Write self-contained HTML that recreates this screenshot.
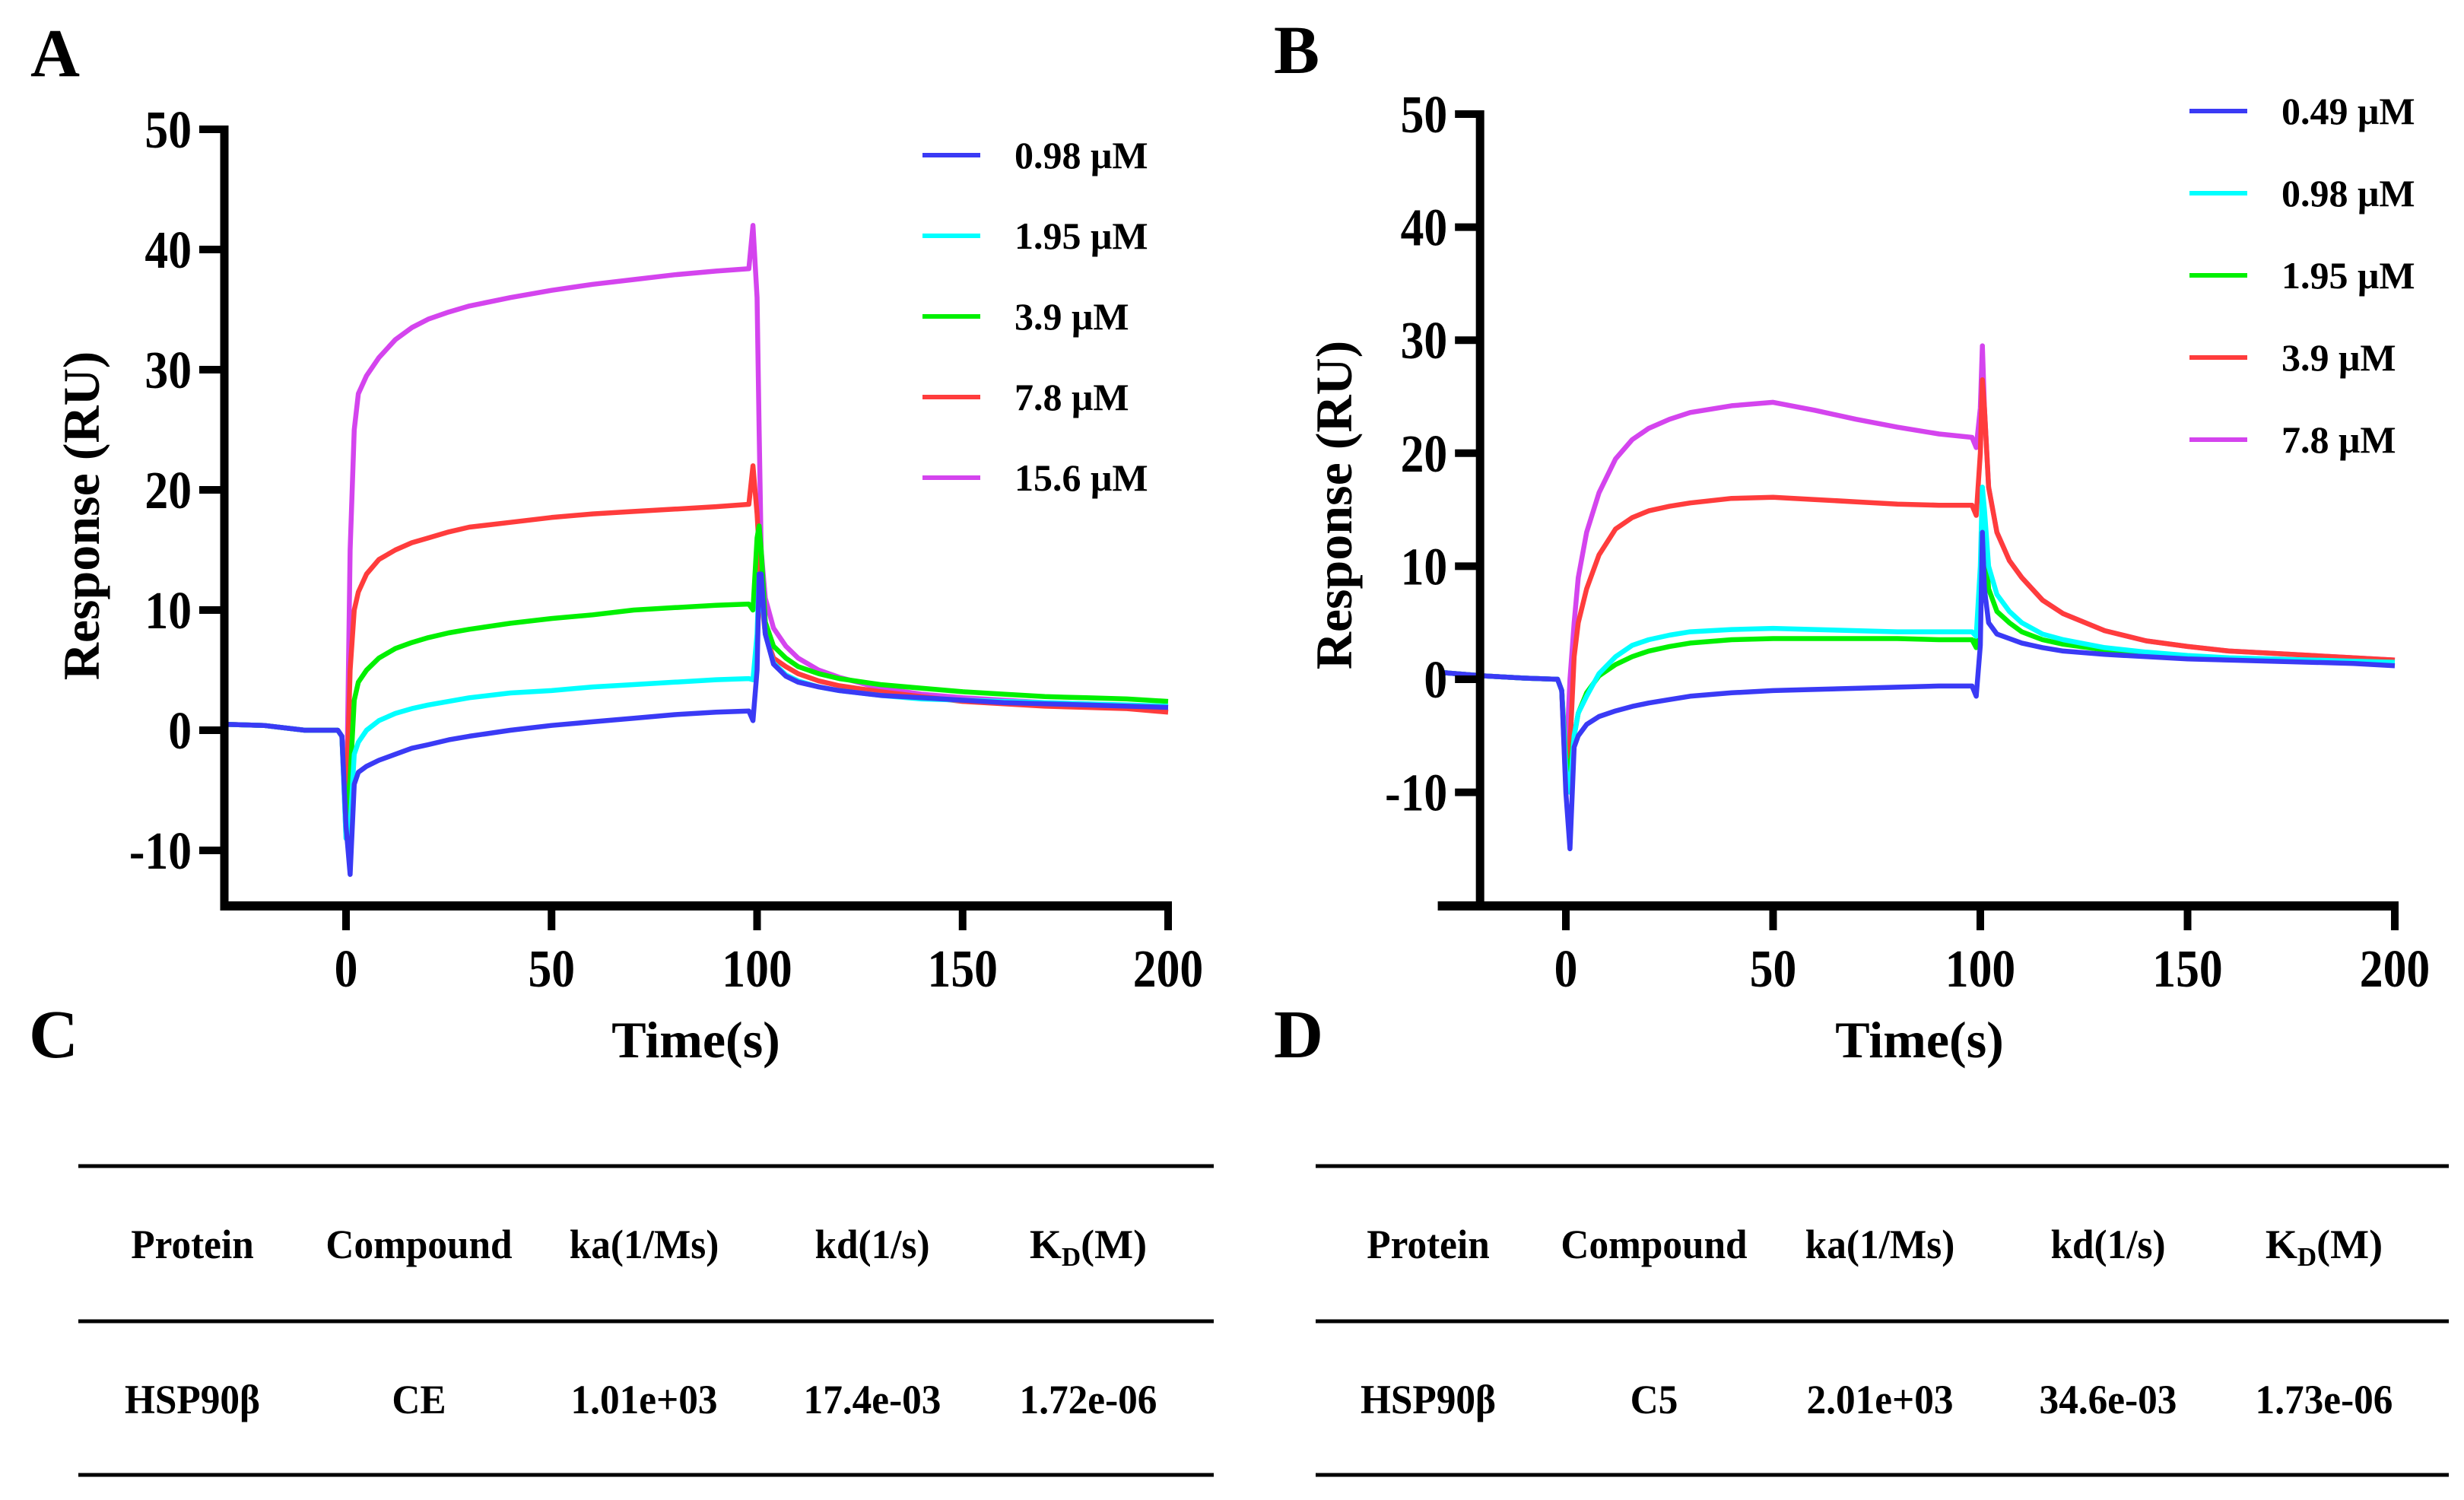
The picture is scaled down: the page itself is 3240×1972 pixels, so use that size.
<!DOCTYPE html>
<html><head><meta charset="utf-8">
<style>
html,body{margin:0;padding:0;background:#fff;}
svg{display:block;}
text{font-family:"Liberation Serif",serif;}
</style></head>
<body>
<svg id="fig" width="3240" height="1972" viewBox="0 0 3240 1972" xmlns="http://www.w3.org/2000/svg"></svg>
<script>
// ---- shared time grid (s) ----
const times = [-30,-20,-10,-2,-1,0,1,2,3,5,8,12,16,20,25,30,40,50,60,70,80,90,98,99,100,100.5,101,102,104,107,110,115,120,130,140,150,160,170,180,190,200];
const yTicks = [-10,0,10,20,30,40,50];
const xTicks = [0,50,100,150,200];
// ---- Panel A ----
const labelsA = ["0.98 μM","1.95 μM","3.9 μM","7.8 μM","15.6 μM"];
const a098 = [0.5,0.4,0,0,-0.5, -8,-12,-4.5,-3.5,-3,-2.5,-2,-1.5,-1.2,-0.8,-0.5,0,0.4,0.7,1.0,1.3,1.5,1.6,0.8,5,13,13,8,5.5,4.5,4,3.6,3.3,2.9,2.7,2.5,2.3,2.2,2.1,2.0,1.9];
const a195 = [0.5,0.4,0,0,-0.5, -9,-8,-2,-1,0,0.8,1.4,1.8,2.1,2.4,2.7,3.1,3.3,3.6,3.8,4.0,4.2,4.3,4.2,8,13,12,8,5.6,4.6,4.1,3.6,3.3,2.9,2.6,2.5,2.4,2.3,2.2,2.1,2.0];
const a39 = [0.5,0.4,0,0,-0.5, -8,-4,2.5,4,5,6,6.8,7.3,7.7,8.1,8.4,8.9,9.3,9.6,10,10.2,10.4,10.5,10,16,17,15,9,7,6,5.3,4.7,4.3,3.8,3.5,3.2,3.0,2.8,2.7,2.6,2.4];
const a78 = [0.5,0.4,0,0,-0.5, -7,5,10,11.5,13,14.2,15,15.6,16,16.5,16.9,17.3,17.7,18,18.2,18.4,18.6,18.8,22,18,15,11,8,6,5.3,4.7,4.1,3.7,3.2,2.8,2.4,2.2,2.0,1.9,1.8,1.5];
const a156 = [0.5,0.4,0,0,-0.5, -9,15,25,28,29.5,31,32.5,33.5,34.2,34.8,35.3,36,36.6,37.1,37.5,37.9,38.2,38.4,42,36,25,15,11,8.5,7,6,5,4.4,3.5,3,2.7,2.5,2.3,2.2,2.0,1.9];
// ---- Panel B ----
const labelsB = ["0.49 μM","0.98 μM","1.95 μM","3.9 μM","7.8 μM"];
const b049 = [0.6,0.3,0.1,0,-1, -10,-15,-6,-5,-4,-3.3,-2.8,-2.4,-2.1,-1.8,-1.5,-1.2,-1.0,-0.9,-0.8,-0.7,-0.6,-0.6,-1.5,3,13,8,5,4,3.6,3.2,2.8,2.5,2.2,2.0,1.8,1.7,1.6,1.5,1.4,1.2];
const b098 = [0.6,0.3,0.1,0,-1, -8,-10,-5,-3,-1.5,0.5,2,3,3.5,3.9,4.2,4.4,4.5,4.4,4.3,4.2,4.2,4.2,3.8,10,17,15,10,7.5,6,5,4,3.5,2.8,2.4,2.1,1.9,1.8,1.7,1.6,1.5];
const b195 = [0.6,0.3,0.1,0,-1, -7,-8,-5,-3,-1.2,0.3,1.3,2,2.5,2.9,3.2,3.5,3.6,3.6,3.6,3.6,3.5,3.5,2.8,9,16,13,8,6,5,4.2,3.5,3.1,2.6,2.2,2.0,1.8,1.7,1.6,1.6,1.5];
const b39 = [0.6,0.3,0.1,0,-1, -9.5,-6,2,5,8,11,13.3,14.3,14.9,15.3,15.6,16.0,16.1,15.9,15.7,15.5,15.4,15.4,14.5,20,26.5,24,17,13,10.5,9,7,5.8,4.3,3.4,2.9,2.5,2.3,2.1,1.9,1.7];
const b78 = [0.6,0.3,0.1,0,-1, -8,0,5,9,13,16.5,19.5,21.2,22.2,23,23.6,24.2,24.5,23.8,23,22.3,21.7,21.4,20.5,24,29.5,24,17,13,10.5,9,7,5.8,4.3,3.4,2.9,2.5,2.3,2.1,1.9,1.7];
// ---- Tables ----
const tableHeaders = ["Protein","Compound","ka(1/Ms)","kd(1/s)","K_D(M)"];
const rowC = ["HSP90β","CE","1.01e+03","17.4e-03","1.72e-06"];
const rowD = ["HSP90β","C5","2.01e+03","34.6e-03","1.73e-06"];

const colors = ["#3a3af5","#00ffff","#00f000","#ff3c3c","#d444ee"];
const NS = "http://www.w3.org/2000/svg";
const svg = document.getElementById("fig");

function mk(tag, attrs, parent, txt){
  const e = document.createElementNS(NS, tag);
  for (const k in attrs) e.setAttribute(k, attrs[k]);
  if (txt !== undefined) e.textContent = txt;
  (parent || svg).appendChild(e);
  return e;
}
function txt(x,y,s,size,anchor,sx,weight,parent,name){
  const t = mk("text",{transform:`translate(${x},${y}) scale(${sx},1)`,"font-size":size,"text-anchor":anchor,"font-weight":weight,fill:"#000"},parent,s);
  
  
  return t;
}

function panel(cfg){
  const g = mk("g",{});
  
  
  const X = v => cfg.x0 + (v - 0) * cfg.pxPer50 / 50;
  const Y = v => cfg.y0 - v * cfg.pxPer10 / 10;
  const axisX = X(cfg.yAxisAt);
  const axisY = cfg.xAxisY;
  for (let s = cfg.series.length - 1; s >= 0; s--) {
    const vals = cfg.series[s];
    let d = "";
    for (let i = 0; i < times.length; i++) {
      d += (i ? "L" : "M") + X(times[i]).toFixed(1) + "," + Y(vals[i]).toFixed(1);
    }
    const p = mk("path",{d:d,fill:"none",stroke:colors[s],"stroke-width":6.5,"stroke-linejoin":"round"},g);
    
    
  }
  const ya = mk("line",{x1:axisX,y1:Y(50)-5,x2:axisX,y2:axisY+6,stroke:"#000","stroke-width":11},g);
  
  
  yTicks.forEach(v=>{
    const l = mk("line",{x1:axisX-33,y1:Y(v),x2:axisX,y2:Y(v),stroke:"#000","stroke-width":10},g);
    
    
    txt(axisX-43, Y(v)+24, String(v), 70, "end", 0.88, "bold", g, "y-tick-label");
  });
  const xa = mk("line",{x1:X(cfg.xStart),y1:axisY,x2:X(200)+5,y2:axisY,stroke:"#000","stroke-width":12},g);
  
  
  xTicks.forEach(v=>{
    const l = mk("line",{x1:X(v),y1:axisY,x2:X(v),y2:axisY+32,stroke:"#000","stroke-width":10},g);
    
    
    txt(X(v), 1297, String(v), 70, "middle", 0.88, "bold", g, "x-tick-label");
  });
  const yt = mk("text",{transform:`translate(${cfg.yTitleX},${cfg.yTitleY}) rotate(-90)`,"font-size":68,"font-weight":"bold","text-anchor":"middle"},g,"Response (RU)");
  
  
  txt(cfg.xTitleX, 1390, "Time(s)", 68, "middle", 1, "bold", g, "x-axis-title");
  cfg.labels.forEach((lab,i)=>{
    const ly = cfg.legY + i*cfg.legStep;
    const l = mk("line",{x1:cfg.legX,y1:ly,x2:cfg.legX+76,y2:ly,stroke:colors[i],"stroke-width":6},g);
    
    
    txt(cfg.legX+121, ly+17, lab, 50, "start", 1, "bold", g, "legend-entry");
  });
  txt(cfg.letterX, cfg.letterY, cfg.letter, 90, "start", 1, "bold", g, "panel-label-" + cfg.letter.toLowerCase());
}

panel({name:"panel-a-chart",letter:"A",letterX:40,letterY:100,
  x0:455,pxPer50:270.25,y0:960,pxPer10:158,yAxisAt:-29.6,xStart:-29.6,xAxisY:1191,
  series:[a098,a195,a39,a78,a156],labels:labelsA,
  legX:1213,legY:204,legStep:106,yTitleX:130,yTitleY:678,xTitleX:915});
panel({name:"panel-b-chart",letter:"B",letterX:1675,letterY:96,
  x0:2059,pxPer50:272.5,y0:893,pxPer10:148.6,yAxisAt:-20.7,xStart:-30.9,xAxisY:1191,
  series:[b049,b098,b195,b39,b78],labels:labelsB,
  legX:2879,legY:146,legStep:108,yTitleX:1777,yTitleY:664,xTitleX:2524});

function table(cfg, row){
  const g = mk("g",{});
  
  
  [1533,1737,1939].forEach(y=>{
    const l = mk("line",{x1:cfg.x1,y1:y,x2:cfg.x2,y2:y,stroke:"#000","stroke-width":5},g);
    
    
  });
  tableHeaders.forEach((h,i)=>{
    if (h === "K_D(M)") {
      const t = mk("text",{x:cfg.cols[i],y:1654,"font-size":54,"font-weight":"bold","text-anchor":"middle"},g);
      
      
      mk("tspan",{},t,"K");
      mk("tspan",{"font-size":35,dy:10},t,"D");
      mk("tspan",{dy:-10},t,"(M)");
    } else {
      txt(cfg.cols[i], 1654, h, 54, "middle", 0.95, "bold", g, "table-header");
    }
  });
  row.forEach((v,i)=>{
    txt(cfg.cols[i], 1858, v, 54, "middle", 0.95, "bold", g, "table-cell");
  });
  txt(cfg.letterX, 1390, cfg.letter, 90, "start", 1, "bold", g, "panel-label-" + cfg.letter.toLowerCase());
}
table({name:"table-c",letter:"C",letterX:38,x1:103,x2:1596,cols:[253,551,847,1147,1431]}, rowC);
table({name:"table-d",letter:"D",letterX:1675,x1:1730,x2:3220,cols:[1878,2175,2472,2772,3056]}, rowD);
</script>
</body></html>
